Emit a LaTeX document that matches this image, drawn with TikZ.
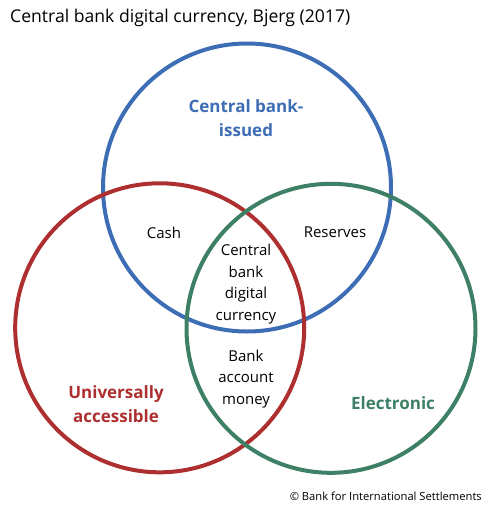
\documentclass[tikz,border=0pt]{standalone}
\usepackage{fontspec}
\setmainfont{Open Sans}
\definecolor{cbblue}{HTML}{3D6DB5}
\definecolor{cbred}{HTML}{AE2F2F}
\definecolor{cbgreen}{HTML}{3E8066}
\begin{document}
\begin{tikzpicture}[x=1pt,y=-1pt,
  ring/.style={line width=4pt},
  lbl/.style={font=\fontsize{15}{21.8}\selectfont, align=center, inner sep=0pt},
  head/.style={font=\fontsize{17}{24.5}\selectfont\bfseries, align=center, inner sep=0pt}]
\useasboundingbox (0,0) rectangle (487,512);
\draw[ring, cbblue] (247,187.5) circle (144);
\draw[ring, cbred] (159.7,327.8) circle (144.5);
\draw[ring, cbgreen] (331,328.3) circle (144.5);
\node[anchor=west, inner sep=0pt, font=\fontsize{17.6}{20}\selectfont] (title) at (10,18) {Central bank digital currency, Bjerg (2017)};
\node[head, text=cbblue] (cbi) at (246,118) {Central bank-\\issued};
\node[head, text=cbred] (ua) at (116,404) {Universally\\accessible};
\node[head, text=cbgreen] (el) at (393,403.3) {Electronic};
\node[lbl] (cash) at (164,232.7) {Cash};
\node[lbl] (res) at (335,232.7) {Reserves};
\node[lbl] (cbdc) at (246,284) {Central\\bank\\digital\\currency};
\node[lbl] (bam) at (246,379) {Bank\\account\\money};
\node[anchor=east, inner sep=0pt, font=\fontsize{11.2}{12}\selectfont] (copy) at (482,496.7) {© Bank for International Settlements};
\end{tikzpicture}
\end{document}
